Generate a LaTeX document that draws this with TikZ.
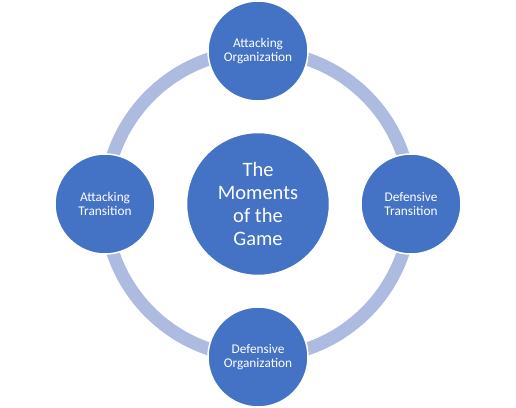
\documentclass[tikz,border=0pt]{standalone}
\usepackage{fontspec}
\setmainfont{Carlito}
\definecolor{cblue}{HTML}{4472C4}
\definecolor{ringc}{HTML}{AEBBE0}
\tikzset{
  small/.style={circle, fill=cblue, draw=white, line width=1.5pt, minimum size=100pt, inner sep=0pt, text=white, align=center, font=\fontsize{13.3}{14.5}\selectfont},
  big/.style={circle, fill=cblue, draw=white, line width=1.5pt, minimum size=143pt, inner sep=0pt, text=white, align=center, font=\fontsize{20.5}{23}\selectfont},
  ring/.style={draw=ringc, line width=13pt}
}
\begin{document}
\begin{tikzpicture}[x=1pt,y=1pt]
\useasboundingbox (0,0) rectangle (516,407);
\coordinate (c) at (258,203);
\draw[ring] (c) circle (153);
\node[big] (m) at (c) {The\\Moments\\of the\\Game};
\node[small] (ao) at (258,356) {Attacking\\Organization};
\node[small] (dt) at (411,203) {Defensive\\Transition};
\node[small] (do) at (258,50) {Defensive\\Organization};
\node[small] (at) at (105,203) {Attacking\\Transition};
\end{tikzpicture}
\end{document}
